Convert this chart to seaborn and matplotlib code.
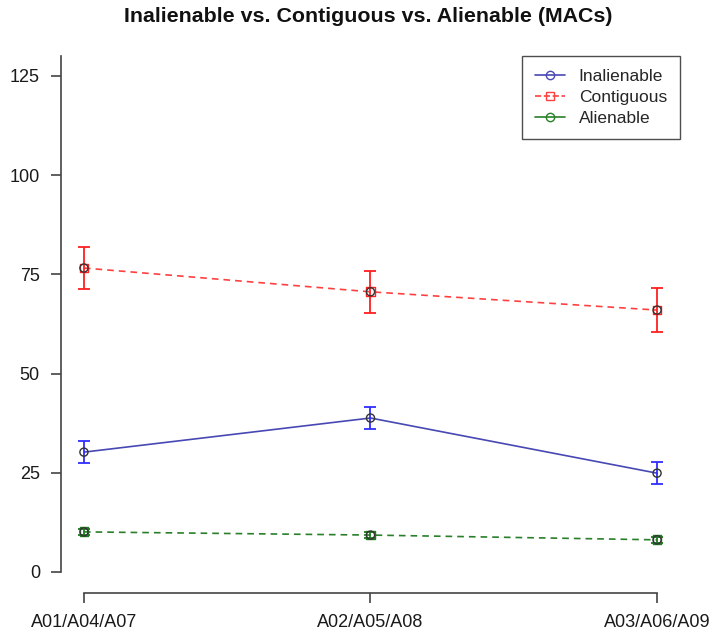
import numpy as np
import pandas as pd
import matplotlib
matplotlib.use("Agg")
import matplotlib.pyplot as plt
from matplotlib.lines import Line2D
import seaborn as sns

# Conditions and item groups
groups = ["A01/A04/A07", "A02/A05/A08", "A03/A06/A09"]
conditions = ["Inalienable", "Contiguous", "Alienable"]

inalienable_mean = [30.2, 38.8, 24.9]
inalienable_err = [2.7, 2.7, 2.7]
contiguous_mean = [76.6, 70.6, 66.0]
contiguous_err = [5.4, 5.3, 5.5]
alienable_mean = [10.1, 9.3, 8.1]
alienable_err = [0.8, 0.7, 0.7]

y_ticks = [0, 25, 50, 75, 100, 125]

line_colors = {"Inalienable": "#4848b4", "Contiguous": "#ff4040", "Alienable": "#2a7f2a"}
bar_colors = {"Inalienable": "#2f2fff", "Contiguous": "#ff2020", "Alienable": "#1f7a1f"}
dash_styles = {"Inalienable": "", "Contiguous": (4, 3), "Alienable": (4, 3)}
legend_markers = {"Inalienable": "o", "Contiguous": "s", "Alienable": "o"}

means = {"Inalienable": inalienable_mean, "Contiguous": contiguous_mean, "Alienable": alienable_mean}
errs = {"Inalienable": inalienable_err, "Contiguous": contiguous_err, "Alienable": alienable_err}

x_pos = np.arange(1, len(groups) + 1)
df = pd.concat(
    [pd.DataFrame({"x": x_pos, "mac": means[c], "err": errs[c], "cond": c}) for c in conditions],
    ignore_index=True,
)

sns.set_theme(style="white")
plt.rcParams["font.family"] = ["Liberation Sans", "DejaVu Sans"]

fig = plt.figure(figsize=(7.12, 6.34), dpi=100)
ax = fig.add_axes([61 / 712, 41.4 / 634, 619 / 712, 557.1 / 634])

sns.lineplot(
    data=df, x="x", y="mac", hue="cond", style="cond",
    palette=line_colors, dashes=dash_styles, hue_order=conditions,
    style_order=conditions, lw=1.2, legend=False, ax=ax, errorbar=None,
)

for c in conditions:
    sub = df[df["cond"] == c]
    ax.errorbar(sub["x"], sub["mac"], yerr=sub["err"], fmt="none",
                ecolor=bar_colors[c], elinewidth=1.3, capsize=4.3, capthick=1.3, zorder=3)
    if c != "Inalienable":
        ax.scatter(sub["x"], sub["mac"], marker="s", s=40, facecolors="none",
                   edgecolors=bar_colors[c], linewidths=1.0, zorder=4)
    ax.scatter(sub["x"], sub["mac"], marker="o", s=34, facecolors="none",
               edgecolors="#333333", linewidths=1.0, zorder=5)

ax.set_xlim(0.92, 3.08)
ax.set_ylim(-5.2, 135.2)
ax.set_xticks(x_pos)
ax.set_xticklabels(groups)
ax.set_yticks(y_ticks)
ax.set_yticklabels([str(v) for v in y_ticks])
ax.set_xlabel("")
ax.set_ylabel("")

for s in ["top", "right"]:
    ax.spines[s].set_visible(False)
for s in ["left", "bottom"]:
    ax.spines[s].set_color("#444444")
    ax.spines[s].set_linewidth(1.2)
ax.spines["left"].set_bounds(0, 130)
ax.spines["bottom"].set_bounds(1, 3)

ax.tick_params(axis="both", which="both", direction="out", length=7.2, width=1.2,
               color="#444444", labelsize=13, labelcolor="#1a1a1a", left=True, bottom=True)
ax.tick_params(axis="x", pad=8)
ax.tick_params(axis="y", pad=8)

fig.suptitle("Inalienable vs. Contiguous vs. Alienable (MACs)", x=368 / 712, y=1 - 17 / 634,
             va="center", fontsize=15.4, fontweight="bold", color="#111111")

handles = [
    Line2D([0], [0], color=line_colors[c], lw=1.2,
           ls="--" if c == "Contiguous" else "-",
           marker=legend_markers[c], markersize=6, markerfacecolor="none",
           markeredgecolor=line_colors[c])
    for c in conditions
]
leg = ax.legend(handles, conditions, loc="upper right",
                bbox_to_anchor=(680 / 712, 1 - 56 / 634), bbox_transform=fig.transFigure,
                borderaxespad=0, frameon=True, fancybox=False, fontsize=12.5,
                handlelength=1.7, borderpad=0.75, labelspacing=0.33, handletextpad=0.8)
leg.get_frame().set_edgecolor("#222222")
leg.get_frame().set_linewidth(1.0)

fig.savefig("out.png", dpi=100)
